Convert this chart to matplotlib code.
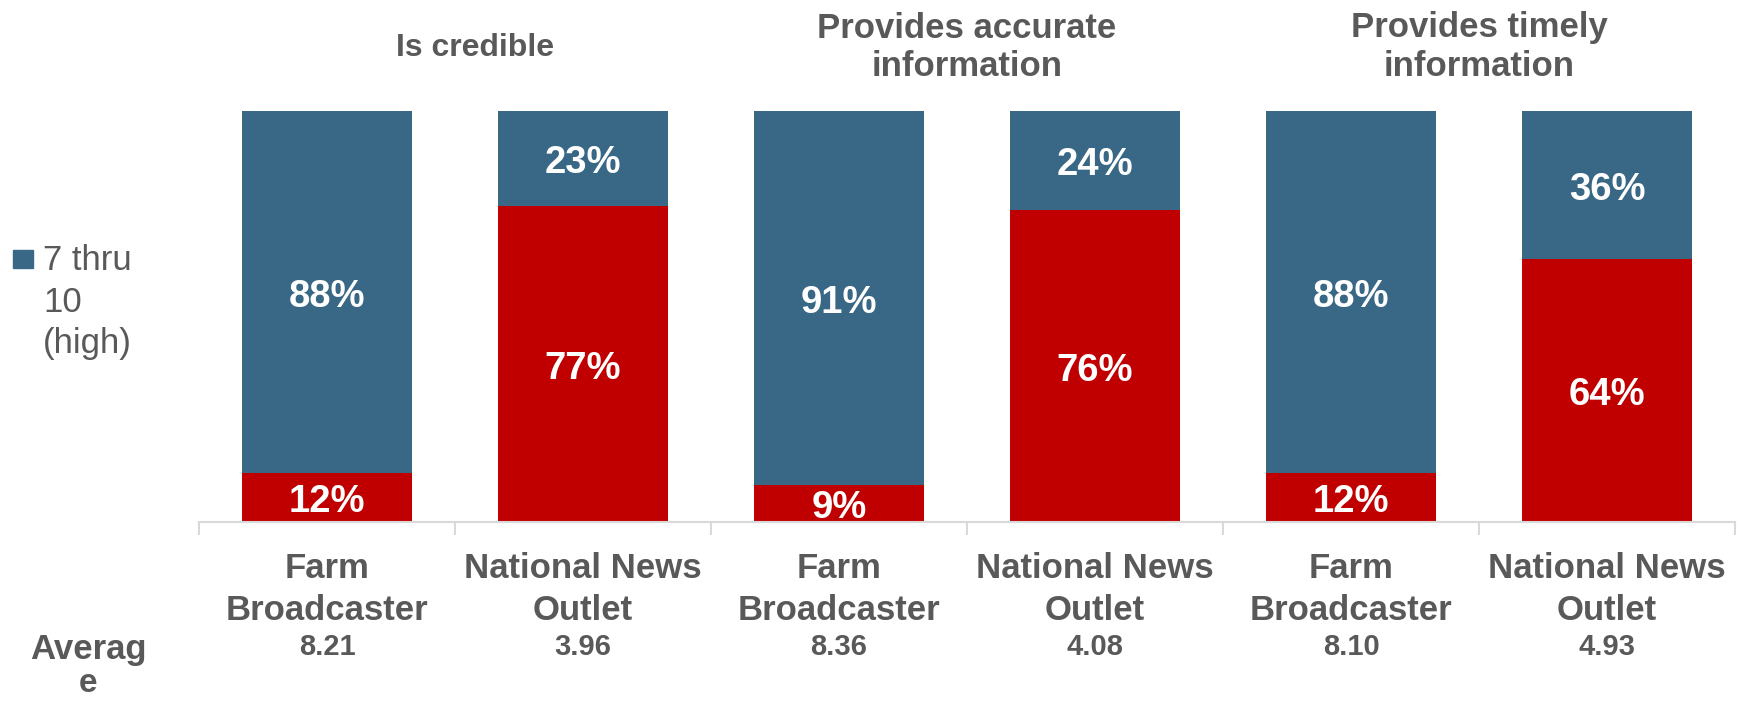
import numpy as np
import matplotlib
matplotlib.use("Agg")
import matplotlib.pyplot as plt
from matplotlib.patches import Rectangle
from matplotlib.transforms import blended_transform_factory

plt.rcParams["font.family"] = ["Liberation Sans", "DejaVu Sans"]

# data
categories = ["Farm\nBroadcaster", "National News\nOutlet",
              "Farm\nBroadcaster", "National News\nOutlet",
              "Farm\nBroadcaster", "National News\nOutlet"]
averages = ["8.21", "3.96", "8.36", "4.08", "8.10", "4.93"]
low_pct = [12, 77, 9, 76, 12, 64]
high_pct = [88, 23, 91, 24, 88, 36]
group_titles = ["Is credible", "Provides accurate\ninformation", "Provides timely\ninformation"]
legend_label = "7 thru\n10\n(high)"

BLUE = "#386885"
RED = "#C00000"
GRAY = "#595959"
AXIS = "#D9D9D9"

W, H = 1752, 702
fig = plt.figure(figsize=(W / 100, H / 100), dpi=100)
ax = fig.add_axes([199 / W, 180 / H, 1536 / W, 411 / H])

x = np.arange(len(categories))
ax.bar(x, low_pct, width=0.664, color=RED)
ax.bar(x, high_pct, bottom=low_pct, width=0.664, color=BLUE)
ax.set_xlim(-0.5, len(categories) - 0.5)
ax.set_ylim(0, 100)

for i in x:
    ax.annotate(f"{low_pct[i]}%", (i, low_pct[i] / 2), xytext=(0, -3.5),
                textcoords="offset points", ha="center", va="center",
                color="white", fontsize=27.5, fontweight="bold")
    ax.annotate(f"{high_pct[i]}%", (i, low_pct[i] + high_pct[i] / 2), xytext=(0, -3.5),
                textcoords="offset points", ha="center", va="center",
                color="white", fontsize=27.5, fontweight="bold")

# axis styling
for s in ["top", "right", "left"]:
    ax.spines[s].set_visible(False)
ax.spines["bottom"].set_color(AXIS)
ax.spines["bottom"].set_linewidth(1.5)
ax.set_yticks([])
ax.set_xticks(x)
ax.set_xticklabels([])
ax.tick_params(axis="x", which="major", length=0)
ax.set_xticks(np.arange(-0.5, len(categories)), minor=True)
ax.tick_params(axis="x", which="minor", length=9.5, width=1.5, color=AXIS)

# category labels under the axis
tr = blended_transform_factory(ax.transData, fig.transFigure)
for i, name in enumerate(categories):
    top, bottom = name.split("\n")
    ax.text(i, 1 - 568 / H, top, transform=tr, ha="center", va="center",
            color=GRAY, fontsize=25, fontweight="bold")
    ax.text(i, 1 - 611 / H, bottom, transform=tr, ha="center", va="center",
            color=GRAY, fontsize=25, fontweight="bold")
    ax.text(i, 1 - 647 / H, averages[i], transform=tr, ha="center", va="center",
            color=GRAY, fontsize=21, fontweight="bold")

fig.text(88 / W, 1 - 649 / H, "Averag", ha="center", va="center",
         color=GRAY, fontsize=25, fontweight="bold")
fig.text(88 / W, 1 - 684 / H, "e", ha="center", va="center",
         color=GRAY, fontsize=24, fontweight="bold")

# group titles
title_x = [0.58, 2.5, 4.5]
title_size = [23, 25, 25]
for tx, t, fs in zip(title_x, group_titles, title_size):
    lines = t.split("\n")
    ys = [48] if len(lines) == 1 else [28, 67]
    for ln, yy in zip(lines, ys):
        ax.text(tx, 1 - yy / H, ln, transform=tr, ha="center", va="center",
                color=GRAY, fontsize=fs, fontweight="bold")

# legend (only the high group is shown)
fig.patches.append(Rectangle((13 / W, 1 - 268 / H), 20 / W, 18 / H,
                             transform=fig.transFigure, color=BLUE))
for ln, yy in zip(legend_label.split("\n"), [261, 302, 343]):
    fig.text(43 / W, 1 - yy / H, ln, ha="left", va="center", color=GRAY, fontsize=25)

fig.savefig("out.png", dpi=100)
